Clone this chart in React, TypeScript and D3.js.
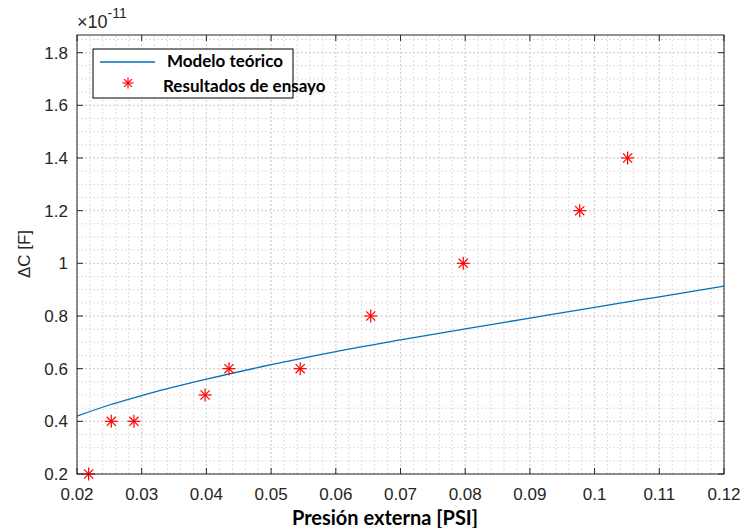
import React from 'react';
import * as d3 from 'd3';

// ensayo: presión externa [PSI] vs ΔC [×1e-11 F]
const presionEnsayo = [0.0218, 0.0253, 0.0288, 0.0398, 0.0435, 0.0545, 0.0654, 0.0797, 0.0977, 0.1051];
const deltaCEnsayo = [0.2, 0.4, 0.4, 0.5, 0.6, 0.6, 0.8, 1.0, 1.2, 1.4];

// modelo teórico
const presionModelo = [0.02, 0.025, 0.03, 0.04, 0.05, 0.06, 0.07, 0.08, 0.09, 0.1, 0.11, 0.12];
const deltaCModelo = [0.42, 0.462, 0.498, 0.56, 0.615, 0.665, 0.709, 0.751, 0.792, 0.833, 0.873, 0.913];

const xTicks = [0.02, 0.03, 0.04, 0.05, 0.06, 0.07, 0.08, 0.09, 0.1, 0.11, 0.12];
const yTicks = [0.2, 0.4, 0.6, 0.8, 1, 1.2, 1.4, 1.6, 1.8];
const legendLabels = ['Modelo teórico', 'Resultados de ensayo'];

const W = 747;
const H = 528;
const marge = { left: 77, right: 23, top: 35, bottom: 54 };

function Star({ x, y, r = 6 }: { x: number; y: number; r?: number }) {
  const d = r * Math.SQRT1_2;
  return (
    <g stroke="#ff0000" strokeWidth={1.2}>
      <line x1={x - r} y1={y} x2={x + r} y2={y} />
      <line x1={x} y1={y - r} x2={x} y2={y + r} />
      <line x1={x - d} y1={y - d} x2={x + d} y2={y + d} />
      <line x1={x - d} y1={y + d} x2={x + d} y2={y - d} />
    </g>
  );
}

export default function App() {
  const x = d3.scaleLinear().domain([0.02, 0.12]).range([marge.left, W - marge.right]);
  const y = d3.scaleLinear().domain([0.2, 1.867]).range([H - marge.bottom, marge.top]);
  const x0 = marge.left, x1 = W - marge.right, y0 = H - marge.bottom, y1 = marge.top;

  // rejilla menor
  const xMinor = d3.range(0.02, 0.1201, 0.002);
  const yMinor = d3.range(0.2, 1.867, 0.05);

  const line = d3.line<number>()
    .x((d, i) => x(presionModelo[i]))
    .y((d) => y(d))
    .curve(d3.curveMonotoneX);

  const tickColor = '#262626';
  const tickFont = '"Liberation Sans", Arial, sans-serif';
  const boldFont = 'Lato, "Open Sans", sans-serif';

  return (
    <svg width={W} height={H} style={{ position: 'absolute', left: 0, top: 0, background: '#fff' }}>
      <rect x={x0} y={y1} width={x1 - x0} height={y0 - y1} fill="#fff" />
      {/* grid */}
      <g stroke="#dedede" strokeWidth={1} strokeDasharray="2,2">
        {xMinor.map((v, i) => (
          <line key={'xm' + i} x1={x(v)} x2={x(v)} y1={y0} y2={y1} />
        ))}
        {yMinor.map((v, i) => (
          <line key={'ym' + i} x1={x0} x2={x1} y1={y(v)} y2={y(v)} />
        ))}
      </g>
      <g stroke="#d2d2d2" strokeWidth={1} strokeDasharray="2,2">
        {xTicks.map((v, i) => (
          <line key={'xg' + i} x1={x(v)} x2={x(v)} y1={y0} y2={y1} />
        ))}
        {yTicks.map((v, i) => (
          <line key={'yg' + i} x1={x0} x2={x1} y1={y(v)} y2={y(v)} />
        ))}
      </g>

      {/* modelo */}
      <path d={line(deltaCModelo) || ''} fill="none" stroke="#0072bd" strokeWidth={1.3} />

      {/* ensayo */}
      {deltaCEnsayo.map((v, i) => (
        <Star key={'s' + i} x={x(presionEnsayo[i])} y={y(v)} r={6.5} />
      ))}

      {/* box + ticks */}
      <g stroke={tickColor} strokeWidth={1}>
        <rect x={x0} y={y1} width={x1 - x0} height={y0 - y1} fill="none" />
        {xTicks.map((v, i) => (
          <g key={'xt' + i}>
            <line x1={x(v)} x2={x(v)} y1={y0} y2={y0 - 6} />
            <line x1={x(v)} x2={x(v)} y1={y1} y2={y1 + 6} />
          </g>
        ))}
        {yTicks.map((v, i) => (
          <g key={'yt' + i}>
            <line x1={x0} x2={x0 + 6} y1={y(v)} y2={y(v)} />
            <line x1={x1} x2={x1 - 6} y1={y(v)} y2={y(v)} />
          </g>
        ))}
      </g>
      <g fill={tickColor} fontFamily={tickFont} fontSize={17}>
        {xTicks.map((v, i) => (
          <text key={'xl' + i} x={x(v)} y={y0 + 26} textAnchor="middle">{d3.format('')(v)}</text>
        ))}
        {yTicks.map((v, i) => (
          <text key={'yl' + i} x={x0 - 9} y={y(v) + 6} textAnchor="end">{d3.format('')(v)}</text>
        ))}
        <text x={77} y={28} fontSize={18}>
          ×10<tspan dy={-10} fontSize={14}>-11</tspan>
        </text>
        <text transform={`translate(30,254) rotate(-90)`} textAnchor="middle" fontSize={17}>ΔC [F]</text>
      </g>
      <text x={385} y={525} textAnchor="middle" fontFamily={boldFont} fontWeight="bold" fontSize={20} fill="#000">
        Presión externa [PSI]
      </text>

      {/* leyenda */}
      <rect x={93} y={49} width={200} height={49} fill="#fff" stroke="#000" strokeWidth={1} />
      <line x1={100} x2={155} y1={62} y2={62} stroke="#0072bd" strokeWidth={1.3} />
      <Star x={128} y={83} r={5.5} />
      <g fontFamily={boldFont} fontWeight="bold" fontSize={17} fill="#000">
        <text x={167} y={67}>{legendLabels[0]}</text>
        <text x={163} y={92}>{legendLabels[1]}</text>
      </g>
    </svg>
  );
}
